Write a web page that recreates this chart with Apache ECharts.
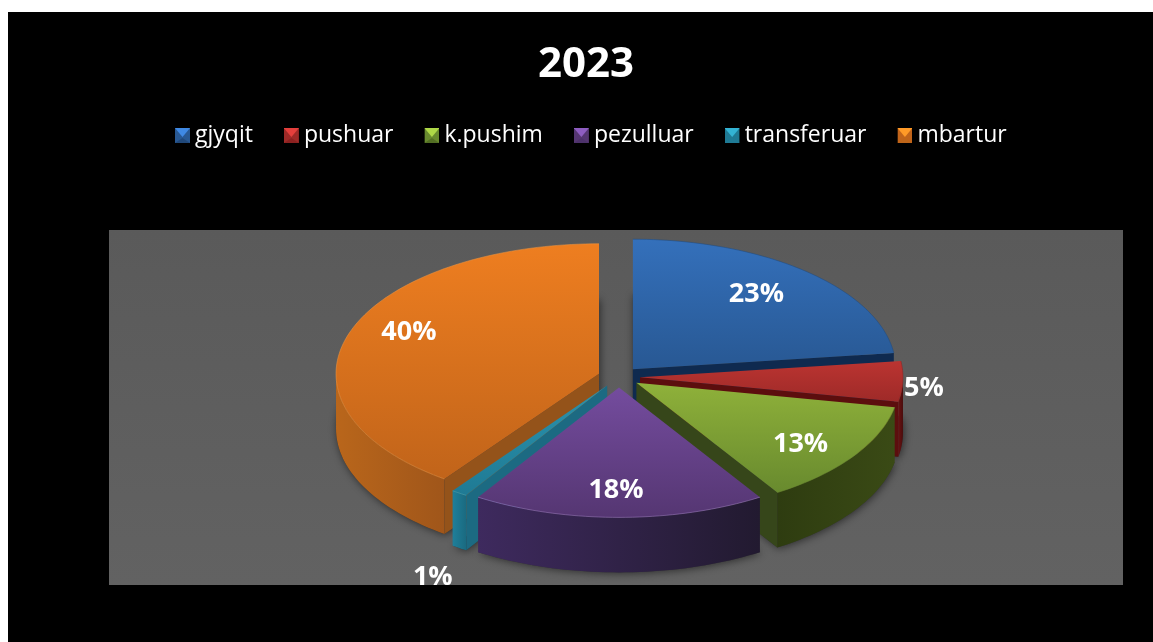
<!DOCTYPE html>
<html><head><meta charset="utf-8">
<script src="https://cdn.jsdelivr.net/npm/echarts@6/dist/echarts.min.js"></script>
<style>html,body{margin:0;padding:0;background:#fff}#c{width:1153px;height:642px}</style>
</head><body><div id="c"></div>
<script>
const titleText = '2023';
const categories = ['gjyqit','pushuar','k.pushim','pezulluar','transferuar','mbartur'];
const shares = [23,5,13,18,1,40];
const labelSuffix = '%';

// Styling, per category
const topColors  = [['#3470bb','#285893'],['#bb3431','#9e2a28'],['#8fb13a','#688a2e'],['#744c9e','#553672'],['#2a93ae','#1f7a94'],['#ee7e20','#c1641a']];
const sideColors = [['#102a4e','#0e2443'],['#6a1212','#4a0d0d'],['#2e3c10','#3a4a15'],['#3e2a5e','#221a30'],['#1f7f9a','#1a6a80'],['#b9661b','#a0561a']];
const cutColors  = ['#0f2a4f','#5c0e0e','#36461a','#2c1f40','#1c6a82','#94531a'];
const rimColors  = ['#1f4a80','#8c2422','#6f8f2e','#9a78c0','#3aa5c0','#f09540'];
const drawOrder  = [3,4,5,7,6,2];
// Radial placement of labels, as fractions of the radii, from each slice's apex
const labelRadial = [[.71,.77],[1.08,-2],[.755,.84],[0,.79],[1.18,1.78],[.76,1.03]];
const labelShift  = [0,0,0,-3,0,0];

const cx=619, cy=377, rx=263, ry=130, ex=21, ey=10.4, depth=55;

function bevelIcon(i){
  const [a,b]=topColors[i], s=sideColors[i];
  const svg=`<svg xmlns="http://www.w3.org/2000/svg" width="15" height="15"><rect width="15" height="15" fill="${b}"/><polygon points="0,0 15,0 7.5,9" fill="${a}" style="filter:brightness(1.22)"/><polygon points="0,15 15,15 7.5,10" fill="${s[0]}" opacity=".35"/></svg>`;
  return 'image://data:image/svg+xml;charset=utf-8,'+encodeURIComponent(svg);
}
const total = shares.reduce((a,b)=>a+b,0);
const rad = d=>d*Math.PI/180;
const vGrad=(c)=>new echarts.graphic.LinearGradient(0,0,0,1,[{offset:0,color:c[0]},{offset:1,color:c[1]}]);
const hGrad=(c)=>new echarts.graphic.LinearGradient(0,0,1,0,[{offset:0,color:c[0]},{offset:1,color:c[1]}]);

function makeRender(i){
  const before = shares.slice(0,i).reduce((a,b)=>a+b,0);
  return function(params,api){
    const v=api.value(0);
    const a0=before/total*360, a1=(before+v)/total*360, mid=(a0+a1)/2;
    const ax=cx+ex*Math.sin(rad(mid)), ay=cy-ey*Math.cos(rad(mid));
    const P=(d,dz)=>[ax+rx*Math.sin(rad(d)), ay-ry*Math.cos(rad(d))+(dz||0)];
    const arc=(s,e,dz)=>{const n=Math.max(2,Math.ceil((e-s)/1.5)),o=[];for(let k=0;k<=n;k++)o.push(P(s+(e-s)*k/n,dz));return o;};
    const A=[ax,ay], AB=[ax,ay+depth];
    const kids=[];
    kids.push({type:'polygon',shape:{points:[AB].concat(arc(a0,a1,depth))},
      style:{fill:'#333',shadowBlur:9,shadowColor:'rgba(0,0,0,0.55)',shadowOffsetX:1,shadowOffsetY:1}});
    if(a1<180){const p=P(a1);
      kids.push({type:'polygon',shape:{points:[A,p,[p[0],p[1]+depth],AB]},style:{fill:cutColors[i]}});}
    if(a0>180){const p=P(a0);
      kids.push({type:'polygon',shape:{points:[A,p,[p[0],p[1]+depth],AB]},style:{fill:cutColors[i]}});}
    const f0=Math.max(a0,90), f1=Math.min(a1,270);
    if(f1>f0){
      const t=arc(f0,f1,0), b=arc(f0,f1,depth).reverse();
      kids.push({type:'polygon',shape:{points:t.concat(b)},style:{fill:hGrad(sideColors[i])}});
    }
    kids.push({type:'polygon',shape:{points:[A].concat(arc(a0,a1,0))},style:{fill:vGrad(topColors[i])}});
    kids.push({type:'polyline',shape:{points:arc(a0,a1,0)},style:{fill:null,stroke:rimColors[i],lineWidth:1,opacity:.55}});
    const lr=labelRadial[i];
    kids.push({type:'text',z2:100,style:{
      x:ax+lr[0]*rx*Math.sin(rad(mid))+labelShift[i],
      y:lr[1]===-2?ay+11:ay-lr[1]*ry*Math.cos(rad(mid)),
      text:v+labelSuffix,fill:'#fff',font:'bold 27px "Open Sans"',align:'center',verticalAlign:'middle'}});
    return {type:'group',children:kids};
  };
}

const chart=echarts.init(document.getElementById('c'),null,{renderer:'canvas'});
chart.setOption({
  animation:false,
  backgroundColor:'#ffffff',
  title:{text:titleText,left:581,top:39,textAlign:'center',textStyle:{color:'#fff',fontFamily:'Open Sans',fontWeight:'bold',fontSize:42}},
  legend:{
    top:119,left:170,itemGap:31,itemWidth:15,itemHeight:15,
    data:categories.map((n,i)=>({name:n,icon:bevelIcon(i)})),
    textStyle:{color:'#fff',fontFamily:'Open Sans',fontSize:23},
    selectedMode:false
  },
  graphic:{elements:[
    {type:'rect',z:-2,silent:true,shape:{x:8,y:12,width:1145,height:630},style:{fill:'#000'}},
    {type:'rect',z:-1,silent:true,shape:{x:109,y:230,width:1014,height:355},
      style:{fill:new echarts.graphic.LinearGradient(0,0,0,1,[{offset:0,color:'#5a5a5a'},{offset:1,color:'#626262'}])}}
  ]},
  series:categories.map((n,i)=>({
    type:'custom',name:n,coordinateSystem:'none',z:drawOrder[i],silent:true,
    itemStyle:{color:topColors[i][0]},
    data:[[shares[i]]],
    renderItem:makeRender(i)
  }))
});
</script></body></html>
